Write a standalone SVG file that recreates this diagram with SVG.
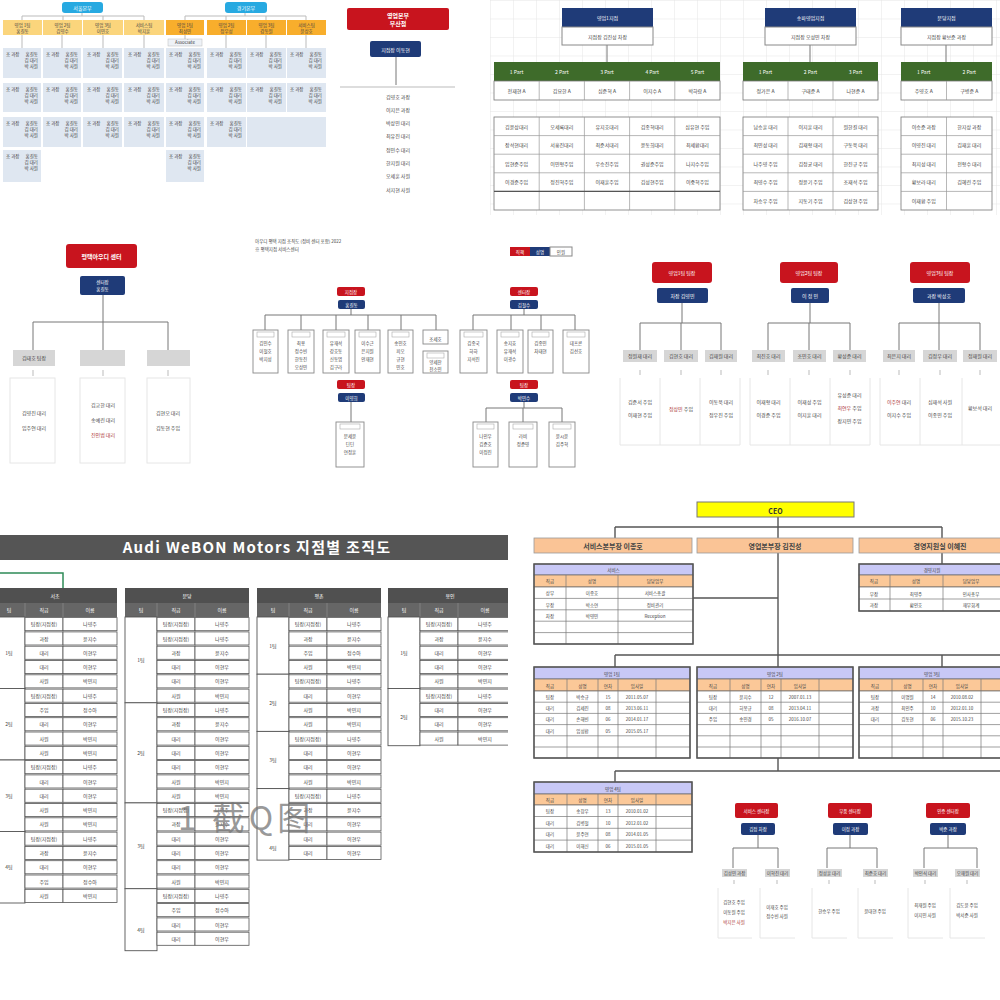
<svg xmlns="http://www.w3.org/2000/svg" width="1000" height="1000" viewBox="0 0 1000 1000">
<defs>
<style>
text{font-family:"Noto Sans CJK KR","Liberation Sans",sans-serif;}
.w{fill:#fff}
.d{fill:#444}
.b{font-weight:bold}
.f4{font-size:4.5px}
.f5{font-size:5px}
.f6{font-size:6px}
.f7{font-size:7px}
.c{text-anchor:middle}
.e{text-anchor:end}
.ln{stroke:#777;stroke-width:1;fill:none}
.lnl{stroke:#bbb;stroke-width:1;fill:none}
.lnd{stroke:#555;stroke-width:1.4;fill:none}
.red{fill:#c8141e}
.navy{fill:#1f3b78}
.cellA{fill:#dfe7f1}
.box{fill:#fff;stroke:#888;stroke-width:1}
.faint{fill:none;stroke:#e6e6e6;stroke-width:1}
.gl{fill:#d6d6d6}
.cell{fill:#fff;stroke:#555;stroke-width:0.8}
.tc{fill:#fff;stroke:#666;stroke-width:0.7}
.hd{fill:#505050}
.lav{fill:#c8c8f6;stroke:#666;stroke-width:0.7}
.org{fill:#fbc898;stroke:#666;stroke-width:0.7}
.grn{fill:#3e6b2a}
</style>
<pattern id="grid" width="23" height="18.5" patternUnits="userSpaceOnUse" x="490" y="0"><path d="M0 0V18.5M0 0H23" stroke="#dedede" stroke-width="0.8" fill="none"/></pattern>
<g id="ca" class="f4 d">
<text x="3" y="8">조 과장</text><text x="35" y="8" class="e">홍길동</text>
<text x="35" y="14" class="e">김 대리</text>
<text x="35" y="20" class="e">박 사원</text>
</g>
<g id="ra"><rect x="32" y="0.6" width="38" height="13.1" class="cell"/><rect x="70" y="0.6" width="54" height="13.1" class="cell"/><text x="51" y="9.3" class="f5 c d">팀장(지점장)</text><text x="97" y="9.3" class="f5 c d">나영주</text></g>
<g id="rb"><rect x="32" y="0.6" width="38" height="13.1" class="cell"/><rect x="70" y="0.6" width="54" height="13.1" class="cell"/><text x="51" y="9.3" class="f5 c d">과장</text><text x="97" y="9.3" class="f5 c d">윤지수</text></g>
<g id="rc"><rect x="32" y="0.6" width="38" height="13.1" class="cell"/><rect x="70" y="0.6" width="54" height="13.1" class="cell"/><text x="51" y="9.3" class="f5 c d">대리</text><text x="97" y="9.3" class="f5 c d">이현우</text></g>
<g id="rd"><rect x="32" y="0.6" width="38" height="13.1" class="cell"/><rect x="70" y="0.6" width="54" height="13.1" class="cell"/><text x="51" y="9.3" class="f5 c d">사원</text><text x="97" y="9.3" class="f5 c d">박민지</text></g>
<g id="re"><rect x="32" y="0.6" width="38" height="13.1" class="cell"/><rect x="70" y="0.6" width="54" height="13.1" class="cell"/><text x="51" y="9.3" class="f5 c d">주임</text><text x="97" y="9.3" class="f5 c d">정수아</text></g>
</defs>
<rect width="1000" height="1000" fill="#fff"/>

<!-- Panel A -->
<g id="panelA">
<path class="lnl" d="M82 13V16M22 16H144M22 16V20M63 16V20M103 16V20M144 16V20M245 13V16M185 16H306M185 16V20M226 16V20M266 16V20M306 16V20"/>
<rect x="62" y="2" width="41" height="11" rx="3" fill="#27a9e1"/><text x="82.5" y="9.5" class="f5 c w">서울본부</text>
<rect x="225" y="2" width="42" height="11" rx="3" fill="#27a9e1"/><text x="246" y="9.5" class="f5 c w">경기본부</text>
<g class="f4">
<rect x="3" y="20" width="39" height="15" fill="#fbd57c"/><text x="22.5" y="26.5" class="c d">영업 1팀</text><text x="22.5" y="32.5" class="c d">홍길동</text>
<rect x="43" y="20" width="39" height="15" fill="#fbd57c"/><text x="62.5" y="26.5" class="c d">영업 2팀</text><text x="62.5" y="32.5" class="c d">김영수</text>
<rect x="83" y="20" width="40" height="15" fill="#fbd57c"/><text x="103" y="26.5" class="c d">영업 3팀</text><text x="103" y="32.5" class="c d">이민호</text>
<rect x="124" y="20" width="40" height="15" fill="#fbd57c"/><text x="144" y="26.5" class="c d">서비스팀</text><text x="144" y="32.5" class="c d">박지훈</text>
<rect x="166" y="20" width="38" height="15" fill="#f8ae2c"/><text x="185" y="26.5" class="c d">영업 1팀</text><text x="185" y="32.5" class="c d">최성민</text>
<rect x="207" y="20" width="39" height="15" fill="#f8ae2c"/><text x="226.5" y="26.5" class="c d">영업 2팀</text><text x="226.5" y="32.5" class="c d">정우성</text>
<rect x="247" y="20" width="39" height="15" fill="#f8ae2c"/><text x="266.5" y="26.5" class="c d">영업 3팀</text><text x="266.5" y="32.5" class="c d">강동원</text>
<rect x="287" y="20" width="39" height="15" fill="#f8ae2c"/><text x="306.5" y="26.5" class="c d">서비스팀</text><text x="306.5" y="32.5" class="c d">윤상호</text>
</g>
<path class="lnl" d="M22 35V48M62 35V48M103 35V48M144 35V48M185 35V39M226 35V48M266 35V48M306 35V48"/>
<rect x="168" y="39" width="34" height="7" fill="#eef2f7" stroke="#bbb" stroke-width="0.5"/><text x="185" y="44.3" class="f4 c d">Associate</text>
<rect x="3" y="48" width="38" height="30" class="cellA"/><use href="#ca" x="3" y="48"/>
<rect x="43" y="48" width="38" height="30" class="cellA"/><use href="#ca" x="43" y="48"/>
<rect x="83" y="48" width="39" height="30" class="cellA"/><use href="#ca" x="84" y="48"/>
<rect x="124" y="48" width="40" height="30" class="cellA"/><use href="#ca" x="125" y="48"/>
<rect x="166" y="48" width="38" height="30" class="cellA"/><use href="#ca" x="166" y="48"/>
<rect x="207" y="48" width="39" height="30" class="cellA"/><use href="#ca" x="207" y="48"/>
<rect x="247" y="48" width="39" height="30" class="cellA"/><use href="#ca" x="247" y="48"/>
<rect x="287" y="48" width="39" height="30" class="cellA"/><use href="#ca" x="287" y="48"/>
<rect x="3" y="83" width="38" height="29" class="cellA"/><use href="#ca" x="3" y="83"/>
<rect x="43" y="83" width="38" height="29" class="cellA"/><use href="#ca" x="43" y="83"/>
<rect x="83" y="83" width="39" height="29" class="cellA"/><use href="#ca" x="84" y="83"/>
<rect x="124" y="83" width="40" height="29" class="cellA"/><use href="#ca" x="125" y="83"/>
<rect x="166" y="83" width="38" height="29" class="cellA"/><use href="#ca" x="166" y="83"/>
<rect x="207" y="83" width="39" height="29" class="cellA"/><use href="#ca" x="207" y="83"/>
<rect x="247" y="83" width="39" height="29" class="cellA"/><use href="#ca" x="247" y="83"/>
<rect x="287" y="83" width="39" height="29" class="cellA"/><use href="#ca" x="287" y="83"/>
<rect x="3" y="117" width="38" height="30" class="cellA"/><use href="#ca" x="3" y="117"/>
<rect x="43" y="117" width="38" height="30" class="cellA"/><use href="#ca" x="43" y="117"/>
<rect x="83" y="117" width="39" height="30" class="cellA"/><use href="#ca" x="84" y="117"/>
<rect x="124" y="117" width="40" height="30" class="cellA"/><use href="#ca" x="125" y="117"/>
<rect x="166" y="117" width="38" height="30" class="cellA"/><use href="#ca" x="166" y="117"/>
<rect x="207" y="117" width="39" height="30" class="cellA"/><use href="#ca" x="207" y="117"/>
<rect x="247" y="117" width="79" height="30" class="cellA"/>
<rect x="3" y="150" width="38" height="32" class="cellA"/><use href="#ca" x="3" y="150"/>
<rect x="166" y="150" width="38" height="32" class="cellA"/><use href="#ca" x="166" y="150"/>
</g>

<!-- Panel B -->
<g id="panelB">
<rect x="347" y="8" width="102" height="22" rx="2" class="red"/>
<text x="398" y="17.5" class="f6 c w b">영업본부</text><text x="398" y="25.5" class="f6 c w b">부산점</text>
<rect x="370" y="41" width="51" height="16" rx="2" class="navy"/><text x="395.5" y="51.5" class="f5 c w">지점장 이동현</text>
<path class="ln" d="M396 57V85"/>
<path class="lnl" d="M340 87H455"/>
<g class="f5 c d">
<text x="398" y="99">김영호 과장</text><text x="398" y="112">이지은 과장</text><text x="398" y="125">박상민 대리</text>
<text x="398" y="138">최유진 대리</text><text x="398" y="152">정민수 대리</text><text x="398" y="165">한지원 대리</text>
<text x="398" y="178">오세훈 사원</text><text x="398" y="192">서지현 사원</text>
</g>
</g>

<!-- Panel C -->
<g id="panelC">
<rect x="490" y="0" width="510" height="215" fill="url(#grid)"/>
<path class="ln" d="M607 45V62M810 45V62M946 45V62"/>
<rect x="562" y="8" width="91" height="19" class="navy"/><text x="607.5" y="20" class="f5 c w">영업1지점</text>
<rect x="562" y="27" width="91" height="18" class="box" stroke="#666"/><text x="607.5" y="38.5" class="f5 c d">지점장 김진성 차장</text>
<rect x="765" y="8" width="91" height="19" class="navy"/><text x="810.5" y="20" class="f5 c w">송파영업지점</text>
<rect x="765" y="27" width="91" height="18" class="box"/><text x="810.5" y="38.5" class="f5 c d">지점장 오성민 차장</text>
<rect x="901" y="8" width="91" height="19" class="navy"/><text x="946.5" y="20" class="f5 c w">분당지점</text>
<rect x="901" y="27" width="91" height="18" class="box"/><text x="946.5" y="38.5" class="f5 c d">지점장 황보준 과장</text>
<rect x="494" y="62" width="226" height="19" class="grn"/>
<rect x="743" y="62" width="135" height="19" class="grn"/>
<rect x="901" y="62" width="91" height="19" class="grn"/>
<g class="f5 c w">
<text x="516.6" y="74">1 Part</text><text x="561.8" y="74">2 Part</text><text x="607" y="74">3 Part</text><text x="652.2" y="74">4 Part</text><text x="697.4" y="74">5 Part</text>
<text x="765.5" y="74">1 Part</text><text x="810.5" y="74">2 Part</text><text x="855.5" y="74">3 Part</text>
<text x="923.75" y="74">1 Part</text><text x="969.25" y="74">2 Part</text>
</g>
<g fill="#fff" stroke="#777" stroke-width="0.8">
<rect x="494" y="81" width="226" height="19"/><rect x="743" y="81" width="135" height="19"/><rect x="901" y="81" width="91" height="19"/>
<rect x="494" y="117" width="226" height="93"/><rect x="743" y="117" width="135" height="93"/><rect x="901" y="117" width="91" height="93"/>
</g>
<path stroke="#999" stroke-width="0.7" fill="none" d="M539.2 81V100M584.4 81V100M629.6 81V100M674.8 81V100M788 81V100M833 81V100M946.5 81V100
M539.2 117V210M584.4 117V210M629.6 117V210M674.8 117V210M788 117V210M833 117V210M946.5 117V210
M494 135.6H720M494 154.2H720M494 172.8H720M494 191.4H720M743 135.6H878M743 154.2H878M743 172.8H878M743 191.4H878M901 135.6H992M901 154.2H992M901 172.8H992M901 191.4H992"/>
<path stroke="#555" stroke-width="1.2" fill="none" d="M494 191.4H720"/>
<g class="f5 c d">
<text x="516.6" y="92.5">전재현 A</text><text x="561.8" y="92.5">김요한 A</text><text x="607" y="92.5">심준혁 A</text><text x="652.2" y="92.5">이지수 A</text><text x="697.4" y="92.5">박하람 A</text>
<text x="765.5" y="92.5">정가은 A</text><text x="810.5" y="92.5">구태준 A</text><text x="855.5" y="92.5">나현준 A</text>
<text x="923.75" y="92.5">주영호 A</text><text x="969.25" y="92.5">구병준 A</text>
<text x="516.6" y="128.5">김윤상대리</text><text x="561.8" y="128.5">오세록대리</text><text x="607" y="128.5">유지호대리</text><text x="652.2" y="128.5">김종혁대리</text><text x="697.4" y="128.5">심유현 주임</text>
<text x="516.6" y="147">장석현대리</text><text x="561.8" y="147">서흥진대리</text><text x="607" y="147">최준서대리</text><text x="652.2" y="147">윤동희대리</text><text x="697.4" y="147">최세환대리</text>
<text x="516.6" y="165.6">임현준주임</text><text x="561.8" y="165.6">이민형주임</text><text x="607" y="165.6">우승진주임</text><text x="652.2" y="165.6">권성준주임</text><text x="697.4" y="165.6">나지수주임</text>
<text x="516.6" y="184.2">이경준주임</text><text x="561.8" y="184.2">정진혁주임</text><text x="607" y="184.2">이재훈주임</text><text x="652.2" y="184.2">김성현주임</text><text x="697.4" y="184.2">이중혁주임</text>
<text x="765.5" y="128.5">남승훈 대리</text><text x="810.5" y="128.5">이지훈 대리</text><text x="855.5" y="128.5">원한길 대리</text>
<text x="765.5" y="147">최민성 대리</text><text x="810.5" y="147">김재형 대리</text><text x="855.5" y="147">구동욱 대리</text>
<text x="765.5" y="165.6">나주영 주임</text><text x="810.5" y="165.6">김정균 대리</text><text x="855.5" y="165.6">한진규 주임</text>
<text x="765.5" y="184.2">최영수 주임</text><text x="810.5" y="184.2">정윤기 주임</text><text x="855.5" y="184.2">조재석 주임</text>
<text x="765.5" y="202.8">차승우 주임</text><text x="810.5" y="202.8">지동기 주임</text><text x="855.5" y="202.8">김상현 주임</text>
<text x="923.75" y="128.5">이승준 과장</text><text x="969.25" y="128.5">한지상 과장</text>
<text x="923.75" y="147">이영진 대리</text><text x="969.25" y="147">김재훈 대리</text>
<text x="923.75" y="165.6">최지성 대리</text><text x="969.25" y="165.6">전형수 대리</text>
<text x="923.75" y="184.2">황보라 대리</text><text x="969.25" y="184.2">김혜린 주임</text>
<text x="923.75" y="202.8">이재환 주임</text>
</g>
</g>

<!-- Panel D -->
<g id="panelD">
<rect x="66" y="244" width="71" height="24" rx="3" class="red"/><text x="101.5" y="258.5" class="f6 c w b">평택아우디 센터</text>
<rect x="80" y="276" width="45" height="19" rx="2" class="navy"/><text x="102.5" y="284" class="f4 c w">센터장</text><text x="102.5" y="291" class="f4 c w">홍길동</text>
<path class="ln" d="M103 295V322M33 322H168M33 322V350M103 322V350M168 322V350"/>
<rect x="13" y="350" width="42" height="16" class="gl"/><text x="34" y="360" class="f5 c d">김태호 팀장</text>
<rect x="80" y="350" width="45" height="16" class="gl"/>
<rect x="147" y="350" width="43" height="16" class="gl"/>
<path class="lnl" d="M33 370V376M103 370V376M168 370V376"/>
<rect x="10" y="378" width="45" height="85" class="faint"/>
<rect x="80" y="378" width="45" height="85" class="faint"/>
<rect x="147" y="378" width="43" height="85" class="faint"/>
<g class="f5 c d">
<text x="34" y="415">김영진 대리</text><text x="34" y="430">임주연 대리</text>
<text x="103" y="407">김교한 대리</text><text x="103" y="422">송예린 대리</text><text x="103" y="437" fill="#a33">진인범 대리</text>
<text x="168" y="415">김현오 대리</text><text x="168" y="430">김동현 주임</text>
</g>
</g>

<!-- Panel E -->
<g id="panelE">
<text x="255" y="243" class="f4 d">아우디 평택 지점 조직도 (정비 센터 포함) 2022</text>
<text x="255" y="251" class="f4 d">※ 평택지점 서비스센터</text>
<rect x="510" y="247" width="20" height="9" class="red"/><rect x="530" y="247" width="20" height="9" class="navy"/><rect x="550" y="247" width="22" height="9" class="box" stroke="#ccc"/>
<text x="520" y="253.5" class="f4 c w">직책</text><text x="540" y="253.5" class="f4 c w">성명</text><text x="561" y="253.5" class="f4 c d">인원</text>
<path class="ln" d="M351 303V315M265 315H436M265 315V330M301 315V330M336 315V330M368 315V330M401 315V330M436 315V330M524 303V315M473 315H575M473 315V330M511 315V330M541 315V330M575 315V330M351 397V422M524 397V408M486 408H562M486 408V422M523 408V422M562 408V422"/>
<rect x="337" y="287" width="28" height="9" rx="2" class="red"/><text x="351" y="293.5" class="f4 c w">지점장</text>
<rect x="338" y="300" width="27" height="9" rx="2" class="navy"/><text x="351.5" y="306.5" class="f4 c w">홍길동</text>
<rect x="510" y="287" width="28" height="9" rx="2" class="red"/><text x="524" y="293.5" class="f4 c w">센터장</text>
<rect x="510" y="300" width="28" height="9" rx="2" class="navy"/><text x="524" y="306.5" class="f4 c w">김철수</text>
<rect x="337" y="380" width="28" height="9" rx="2" class="red"/><text x="351" y="386.5" class="f4 c w">팀장</text>
<rect x="338" y="393" width="27" height="9" rx="2" class="navy"/><text x="351.5" y="399.5" class="f4 c w">이영희</text>
<rect x="510" y="380" width="28" height="9" rx="2" class="red"/><text x="524" y="386.5" class="f4 c w">팀장</text>
<rect x="510" y="393" width="28" height="9" rx="2" class="navy"/><text x="524" y="399.5" class="f4 c w">박민수</text>
<g fill="#fff" stroke="#888" stroke-width="0.9">
<rect x="253" y="330" width="25" height="43"/><rect x="288" y="330" width="26" height="43"/><rect x="323" y="330" width="26" height="43"/>
<rect x="355" y="330" width="25" height="43"/><rect x="388" y="330" width="25" height="43"/><rect x="423" y="330" width="25" height="14"/><rect x="423" y="351" width="25" height="22"/>
<rect x="460" y="330" width="27" height="43"/><rect x="497" y="330" width="26" height="43"/><rect x="528" y="330" width="25" height="43"/><rect x="563" y="330" width="26" height="43"/>
<rect x="336" y="422" width="28" height="45"/><rect x="473" y="422" width="25" height="45"/><rect x="509" y="422" width="28" height="45"/><rect x="549" y="422" width="26" height="45"/>
</g>
<g fill="#fff" stroke="#aaa" stroke-width="0.6">
<rect x="257" y="332" width="17" height="5"/><rect x="292" y="332" width="18" height="5"/><rect x="327" y="332" width="18" height="5"/><rect x="359" y="332" width="17" height="5"/><rect x="392" y="332" width="17" height="5"/><rect x="427" y="353" width="17" height="5"/>
<rect x="464" y="332" width="19" height="5"/><rect x="501" y="332" width="18" height="5"/><rect x="532" y="332" width="17" height="5"/><rect x="567" y="332" width="18" height="5"/>
<rect x="340" y="424" width="20" height="5"/><rect x="477" y="424" width="17" height="5"/><rect x="513" y="424" width="20" height="5"/><rect x="553" y="424" width="18" height="5"/>
</g>
<g class="f4 c d">
<text x="265.5" y="345">김민수</text><text x="265.5" y="353">이철호</text><text x="265.5" y="361">박지성</text>
<text x="301" y="345">최용</text><text x="301" y="353">정수빈</text><text x="301" y="361">한동진</text><text x="301" y="369">오상민</text>
<text x="336" y="345">유재석</text><text x="336" y="353">강호동</text><text x="336" y="361">신동엽</text><text x="336" y="369">김구라</text>
<text x="367.5" y="345">이수근</text><text x="367.5" y="353">은지원</text><text x="367.5" y="361">안재현</text>
<text x="400.5" y="345">송민호</text><text x="400.5" y="353">피오</text><text x="400.5" y="361">규현</text><text x="400.5" y="369">민호</text>
<text x="435.5" y="341">조세호</text><text x="435.5" y="364">양세찬</text><text x="435.5" y="371">전소민</text>
<text x="473.5" y="345">김종국</text><text x="473.5" y="353">하하</text><text x="473.5" y="361">지석진</text>
<text x="510" y="345">송지효</text><text x="510" y="353">유재석</text><text x="510" y="361">이광수</text>
<text x="540.5" y="345">김종민</text><text x="540.5" y="353">차태현</text>
<text x="576" y="345">데프콘</text><text x="576" y="353">김선호</text>
<text x="350" y="438">문세윤</text><text x="350" y="446">딘딘</text><text x="350" y="454">연정훈</text>
<text x="485.5" y="438">나인우</text><text x="485.5" y="446">김준호</text><text x="485.5" y="454">이정진</text>
<text x="523" y="438">라비</text><text x="523" y="446">정준영</text>
<text x="562" y="438">윤시윤</text><text x="562" y="446">김주혁</text>
</g>
</g>

<!-- Panel F -->
<g id="panelF">
<path class="ln" d="M682 303V323M640 323H721M640 323V350M681 323V350M721 323V350M810 303V323M768 323H850M768 323V350M809 323V350M850 323V350M939 303V323M899 323H980M899 323V350M939 323V350M980 323V350"/>
<rect x="652" y="262" width="60" height="21" rx="3" class="red"/><text x="682" y="274.5" class="f5 c w">영업1팀 팀장</text>
<rect x="657" y="288" width="51" height="15" rx="2" class="navy"/><text x="682.5" y="297.5" class="f5 c w">차장 김영민</text>
<rect x="780" y="262" width="58" height="21" rx="3" class="red"/><text x="809" y="274.5" class="f5 c w">영업2팀 팀장</text>
<rect x="791" y="288" width="38" height="15" rx="2" class="navy"/><text x="810" y="297.5" class="f5 c w">이 정 민</text>
<rect x="910" y="262" width="60" height="21" rx="3" class="red"/><text x="940" y="274.5" class="f5 c w">영업3팀 팀장</text>
<rect x="913" y="288" width="52" height="15" rx="2" class="navy"/><text x="939" y="297.5" class="f5 c w">과장 박성호</text>
<g class="gl">
<rect x="623" y="350" width="34" height="12"/><rect x="664" y="350" width="34" height="12"/><rect x="705" y="350" width="32" height="12"/>
<rect x="752" y="350" width="33" height="12"/><rect x="793" y="350" width="33" height="12"/><rect x="833" y="350" width="33" height="12"/>
<rect x="883" y="350" width="32" height="12"/><rect x="923" y="350" width="34" height="12"/><rect x="963" y="350" width="34" height="12"/>
</g>
<g class="f5 c d">
<text x="640" y="358">정원재 대리</text><text x="681" y="358">김현호 대리</text><text x="721" y="358">김재원 대리</text>
<text x="768.5" y="358">최진호 대리</text><text x="809.5" y="358">조민호 대리</text><text x="849.5" y="358">황성준 대리</text>
<text x="899" y="358">최은지 대리</text><text x="940" y="358">김정우 대리</text><text x="980" y="358">정재원 대리</text>
</g>
<path class="lnl" d="M640 370V375M681 370V375M721 370V375M768 370V375M809 370V375M850 370V375M899 370V375M940 370V375M980 370V375"/>
<path class="faint" d="M620 378V445M660 378V445M700 378V445M740 378V445M750 378V445M790 378V445M830 378V445M870 378V445M880 378V445M920 378V445M962 378V445M620 445H740M750 445H870M880 445H1000"/>
<g class="f5 c d">
<text x="640" y="404">김준서 주임</text><text x="640" y="417">이재현 주임</text>
<text x="681" y="411"><tspan fill="#a33">정상민</tspan> 주임</text>
<text x="721" y="404">이동욱 대리</text><text x="721" y="417">정우진 주임</text>
<text x="768.5" y="404">이재형 대리</text><text x="768.5" y="417">이경준 주임</text>
<text x="809.5" y="404">이재성 주임</text><text x="809.5" y="417">이지훈 대리</text>
<text x="849.5" y="397">유성준 대리</text><text x="849.5" y="410"><tspan fill="#a33">최연우</tspan> 주임</text><text x="849.5" y="423">장지민 주임</text>
<text x="899" y="404"><tspan fill="#a33">이주연</tspan> 대리</text><text x="899" y="417">이지수 주임</text>
<text x="940" y="404">심재석 사원</text><text x="940" y="417">이종민 주임</text>
<text x="980" y="410">황보석 대리</text>
</g>
</g>

<!-- Panel G -->
<g id="panelG">
<rect x="0" y="535" width="508" height="25" fill="#555"/>
<text x="257" y="553" class="c w b" style="font-size:15px;letter-spacing:1.3px">Audi WeBON Motors 지점별 조직도</text>
<rect x="-2" y="573" width="65" height="17" fill="none" stroke="#2e8b57" stroke-width="1.5"/>
<g>
<rect x="-7" y="588" width="124" height="15" class="hd"/><rect x="125" y="588" width="124" height="15" class="hd"/><rect x="257" y="588" width="124" height="15" class="hd"/><rect x="388" y="588" width="124" height="15" class="hd"/>
<rect x="-7" y="603" width="124" height="14" fill="#666"/><rect x="125" y="603" width="124" height="14" fill="#666"/><rect x="257" y="603" width="124" height="14" fill="#666"/><rect x="388" y="603" width="124" height="14" fill="#666"/>
<path stroke="#888" stroke-width="0.8" d="M25 603V617M63 603V617M157 603V617M195 603V617M289 603V617M327 603V617M420 603V617M458 603V617"/>
</g>
<g class="f5 c w">
<text x="55" y="598">서초</text><text x="187" y="598">분당</text><text x="319" y="598">평촌</text><text x="450" y="598">용인</text>
<text x="9" y="612">팀</text><text x="44" y="612">직급</text><text x="90" y="612">이름</text>
<text x="141" y="612">팀</text><text x="176" y="612">직급</text><text x="222" y="612">이름</text>
<text x="273" y="612">팀</text><text x="308" y="612">직급</text><text x="354" y="612">이름</text>
<text x="404" y="612">팀</text><text x="439" y="612">직급</text><text x="485" y="612">이름</text>
</g>
<!-- group cells -->
<g fill="#fff" stroke="#555" stroke-width="0.9">
<rect x="-7" y="617" width="32" height="71.5"/><rect x="-7" y="688.5" width="32" height="71.5"/><rect x="-7" y="760" width="32" height="71.5"/><rect x="-7" y="831.5" width="32" height="71.5"/>
<rect x="125" y="617" width="32" height="85.8"/><rect x="125" y="702.8" width="32" height="100.1"/><rect x="125" y="802.9" width="32" height="85.8"/><rect x="125" y="888.7" width="32" height="62"/>
<rect x="257" y="617" width="32" height="57.2"/><rect x="257" y="674.2" width="32" height="57.2"/><rect x="257" y="731.4" width="32" height="57.2"/><rect x="257" y="788.6" width="32" height="71.5"/>
<rect x="388" y="617" width="32" height="71.5"/><rect x="388" y="688.5" width="32" height="57.2"/>
</g>
<g class="f5 c d">
<text x="9" y="655">1팀</text><text x="9" y="726">2팀</text><text x="9" y="798">3팀</text><text x="9" y="869">4팀</text>
<text x="141" y="662">1팀</text><text x="141" y="755">2팀</text><text x="141" y="848">3팀</text><text x="141" y="932">4팀</text>
<text x="273" y="648">1팀</text><text x="273" y="705">2팀</text><text x="273" y="762">3팀</text><text x="273" y="850">4팀</text>
<text x="404" y="655">1팀</text><text x="404" y="719">2팀</text>
</g>
<!-- table 1 -->
<use href="#ra" x="-7" y="617"/><use href="#rb" x="-7" y="631.3"/><use href="#rc" x="-7" y="645.6"/><use href="#rc" x="-7" y="659.9"/><use href="#rd" x="-7" y="674.2"/>
<use href="#ra" x="-7" y="688.5"/><use href="#re" x="-7" y="702.8"/><use href="#rc" x="-7" y="717.1"/><use href="#rd" x="-7" y="731.4"/><use href="#rd" x="-7" y="745.7"/>
<use href="#ra" x="-7" y="760"/><use href="#rc" x="-7" y="774.3"/><use href="#rc" x="-7" y="788.6"/><use href="#rd" x="-7" y="802.9"/><use href="#rd" x="-7" y="817.2"/>
<use href="#ra" x="-7" y="831.5"/><use href="#rb" x="-7" y="845.8"/><use href="#rc" x="-7" y="860.1"/><use href="#re" x="-7" y="874.4"/><use href="#rd" x="-7" y="888.7"/>
<!-- table 2 -->
<use href="#ra" x="125" y="617"/><use href="#ra" x="125" y="631.3"/><use href="#rb" x="125" y="645.6"/><use href="#rc" x="125" y="659.9"/><use href="#rc" x="125" y="674.2"/><use href="#rd" x="125" y="688.5"/>
<use href="#ra" x="125" y="702.8"/><use href="#rb" x="125" y="717.1"/><use href="#rc" x="125" y="731.4"/><use href="#rc" x="125" y="745.7"/><use href="#rc" x="125" y="760"/><use href="#rd" x="125" y="774.3"/><use href="#rd" x="125" y="788.6"/>
<use href="#ra" x="125" y="802.9"/><use href="#rb" x="125" y="817.2"/><use href="#rc" x="125" y="831.5"/><use href="#rc" x="125" y="845.8"/><use href="#rc" x="125" y="860.1"/><use href="#rd" x="125" y="874.4"/>
<use href="#ra" x="125" y="888.7"/><use href="#re" x="125" y="903"/><use href="#rc" x="125" y="917.3"/><use href="#rc" x="125" y="931.6"/>
<!-- table 3 -->
<use href="#ra" x="257" y="617"/><use href="#rb" x="257" y="631.3"/><use href="#re" x="257" y="645.6"/><use href="#rd" x="257" y="659.9"/>
<use href="#ra" x="257" y="674.2"/><use href="#rc" x="257" y="688.5"/><use href="#rd" x="257" y="702.8"/><use href="#rd" x="257" y="717.1"/>
<use href="#ra" x="257" y="731.4"/><use href="#rc" x="257" y="745.7"/><use href="#rc" x="257" y="760"/><use href="#rd" x="257" y="774.3"/>
<use href="#ra" x="257" y="788.6"/><use href="#rb" x="257" y="802.9"/><use href="#rc" x="257" y="817.2"/><use href="#rc" x="257" y="831.5"/><use href="#rc" x="257" y="845.8"/>
<!-- table 4 -->
<use href="#ra" x="388" y="617"/><use href="#rb" x="388" y="631.3"/><use href="#rc" x="388" y="645.6"/><use href="#rc" x="388" y="659.9"/><use href="#rd" x="388" y="674.2"/>
<use href="#ra" x="388" y="688.5"/><use href="#rc" x="388" y="702.8"/><use href="#rc" x="388" y="717.1"/><use href="#rd" x="388" y="731.4"/>
<rect x="508" y="580" width="20" height="380" fill="#fff"/>
<text x="178" y="830" fill="#777" fill-opacity="0.75" style="font-family:'Noto Sans CJK SC','Liberation Sans',sans-serif;font-size:33px;letter-spacing:4px">1 截Q图</text>
</g>

<!-- Panel H -->
<g id="panelH">
<path class="lnd" d="M778 517V771M615 527H942M615 527V538M942 527V538M942 553V564M693 598H778M615 655H1000M615 655V667M942 655V667M615 771H1000M615 771V782"/>
<rect x="697" y="502" width="157" height="15" fill="#ffff00" stroke="#777" stroke-width="1"/>
<text x="775.5" y="513.5" class="f7 c b" fill="#333">CEO</text>
<g fill="#fac496" stroke="#999" stroke-width="0.8">
<rect x="534" y="538" width="158" height="15"/><rect x="697" y="538" width="156" height="15"/><rect x="859" y="538" width="146" height="15"/>
</g>
<g class="f7 c b" fill="#444">
<text x="613" y="548.5">서비스본부장 이종호</text><text x="775" y="548.5">영업본부장 김진성</text><text x="940" y="548.5">경영지원실 이혜진</text>
</g>
<rect x="534" y="564" width="159" height="11" class="lav"/><rect x="534" y="575" width="159" height="12" class="org"/>
<rect x="534" y="587" width="159" height="57" class="tc"/>
<path stroke="#777" stroke-width="0.7" d="M566 575V644M618 575V644M534 598.4H693M534 609.8H693M534 621.2H693M534 632.6H693"/>
<rect x="534" y="564" width="159" height="80" fill="none" stroke="#555" stroke-width="1.5"/>
<rect x="859" y="564" width="146" height="11" class="lav"/><rect x="859" y="575" width="146" height="12" class="org"/>
<rect x="859" y="587" width="146" height="24" class="tc"/>
<path stroke="#777" stroke-width="0.7" d="M890 575V611M943 575V611M859 599H1000"/>
<rect x="859" y="564" width="146" height="47" fill="none" stroke="#555" stroke-width="1.5"/>
<g class="f4 c d">
<text x="613.5" y="571.5">서비스</text><text x="550" y="583">직급</text><text x="592" y="583">성명</text><text x="655" y="583">담당업무</text>
<text x="550" y="595">상무</text><text x="592" y="595">이종호</text><text x="655" y="595">서비스총괄</text>
<text x="550" y="606.5">부장</text><text x="592" y="606.5">박소연</text><text x="655" y="606.5">정비관리</text>
<text x="550" y="618">차장</text><text x="592" y="618">박영민</text><text x="655" y="618">Reception</text>
<text x="932" y="571.5">경영지원</text><text x="874" y="583">직급</text><text x="916" y="583">성명</text><text x="971" y="583">담당업무</text>
<text x="874" y="595.5">부장</text><text x="916" y="595.5">최영주</text><text x="971" y="595.5">인사총무</text>
<text x="874" y="607">과장</text><text x="916" y="607">황인호</text><text x="971" y="607">재무회계</text>
</g>
<g id="hmid">
<rect x="534" y="667" width="156" height="12" class="lav"/><rect x="534" y="679" width="156" height="12" class="org"/>
<rect x="534" y="691" width="156" height="67" class="tc"/>
<path stroke="#777" stroke-width="0.7" d="M567 679V758M598 679V758M618 679V758M656 679V758M534 702.2H690M534 713.4H690M534 724.6H690M534 735.8H690M534 747H690"/>
<rect x="534" y="667" width="156" height="91" fill="none" stroke="#555" stroke-width="1.5"/>
<rect x="697" y="667" width="156" height="12" class="lav"/><rect x="697" y="679" width="156" height="12" class="org"/>
<rect x="697" y="691" width="156" height="67" class="tc"/>
<path stroke="#777" stroke-width="0.7" d="M730 679V758M761 679V758M781 679V758M819 679V758M697 702.2H853M697 713.4H853M697 724.6H853M697 735.8H853M697 747H853"/>
<rect x="697" y="667" width="156" height="91" fill="none" stroke="#555" stroke-width="1.5"/>
<rect x="859" y="667" width="146" height="12" class="lav"/><rect x="859" y="679" width="146" height="12" class="org"/>
<rect x="859" y="691" width="146" height="67" class="tc"/>
<path stroke="#777" stroke-width="0.7" d="M892 679V758M923 679V758M943 679V758M981 679V758M859 702.2H1000M859 713.4H1000M859 724.6H1000M859 735.8H1000M859 747H1000"/>
<rect x="859" y="667" width="146" height="91" fill="none" stroke="#555" stroke-width="1.5"/>
<rect x="534" y="782" width="158" height="12" class="lav"/><rect x="534" y="794" width="158" height="11" class="org"/>
<rect x="534" y="805" width="158" height="47" class="tc"/>
<path stroke="#777" stroke-width="0.7" d="M567 794V852M598 794V852M618 794V852M656 794V852M534 816.5H692M534 828.3H692M534 840.1H692"/>
<rect x="534" y="782" width="158" height="70" fill="none" stroke="#555" stroke-width="1.5"/>
</g>
<g class="f4 c d">
<text x="612" y="675.5">영업 1팀</text><text x="775" y="675.5">영업 2팀</text><text x="932" y="675.5">영업 3팀</text><text x="613" y="790.5">영업 4팀</text>
<text x="550" y="687.5">직급</text><text x="582.5" y="687.5">성명</text><text x="608" y="687.5">연차</text><text x="637" y="687.5">입사일</text>
<text x="713" y="687.5">직급</text><text x="745.5" y="687.5">성명</text><text x="771" y="687.5">연차</text><text x="800" y="687.5">입사일</text>
<text x="875" y="687.5">직급</text><text x="907.5" y="687.5">성명</text><text x="933" y="687.5">연차</text><text x="962" y="687.5">입사일</text>
<text x="550" y="801.5">직급</text><text x="582.5" y="801.5">성명</text><text x="608" y="801.5">연차</text><text x="637" y="801.5">입사일</text>
<text x="550" y="699">팀장</text><text x="582.5" y="699">박승규</text><text x="608" y="699">15</text><text x="637" y="699">2011.05.07</text>
<text x="550" y="710">대리</text><text x="582.5" y="710">김세진</text><text x="608" y="710">08</text><text x="637" y="710">2013.06.11</text>
<text x="550" y="721">대리</text><text x="582.5" y="721">손해빈</text><text x="608" y="721">06</text><text x="637" y="721">2014.01.17</text>
<text x="550" y="732.5">대리</text><text x="582.5" y="732.5">임성환</text><text x="608" y="732.5">05</text><text x="637" y="732.5">2015.05.17</text>
<text x="713" y="699">팀장</text><text x="745.5" y="699">윤지수</text><text x="771" y="699">12</text><text x="800" y="699">2007.01.13</text>
<text x="713" y="710">대리</text><text x="745.5" y="710">허봉규</text><text x="771" y="710">08</text><text x="800" y="710">2013.04.11</text>
<text x="713" y="721">주임</text><text x="745.5" y="721">송민경</text><text x="771" y="721">05</text><text x="800" y="721">2016.10.07</text>
<text x="875" y="699">팀장</text><text x="907.5" y="699">이명원</text><text x="933" y="699">14</text><text x="962" y="699">2010.08.02</text>
<text x="875" y="710">과장</text><text x="907.5" y="710">최인주</text><text x="933" y="710">10</text><text x="962" y="710">2012.01.10</text>
<text x="875" y="721">대리</text><text x="907.5" y="721">김동현</text><text x="933" y="721">06</text><text x="962" y="721">2015.10.23</text>
<text x="550" y="813">팀장</text><text x="582.5" y="813">송창우</text><text x="608" y="813">13</text><text x="637" y="813">2010.01.02</text>
<text x="550" y="824.5">대리</text><text x="582.5" y="824.5">김병철</text><text x="608" y="824.5">10</text><text x="637" y="824.5">2012.01.02</text>
<text x="550" y="836">대리</text><text x="582.5" y="836">윤주연</text><text x="608" y="836">08</text><text x="637" y="836">2014.01.05</text>
<text x="550" y="848">대리</text><text x="582.5" y="848">이해신</text><text x="608" y="848">06</text><text x="637" y="848">2015.01.05</text>
</g>
</g>

<!-- Panel I -->
<g id="panelI">
<path class="ln" d="M758 835V848M733 848H778M733 848V868M778 848V868M850 835V848M827 848H877M827 848V868M877 848V868M948 835V848M924 848H977M924 848V868M977 848V868"/>
<rect x="735" y="803" width="43" height="15" rx="2" class="red"/><text x="756.5" y="812.5" class="f4 c w">서비스 센터장</text>
<rect x="741" y="823" width="34" height="12" rx="2" class="navy"/><text x="758" y="831" class="f4 c w">김정 차장</text>
<rect x="828" y="803" width="44" height="15" rx="2" class="red"/><text x="850" y="812.5" class="f4 c w">부품 센터장</text>
<rect x="833" y="823" width="35" height="12" rx="2" class="navy"/><text x="850.5" y="831" class="f4 c w">이정 과장</text>
<rect x="926" y="803" width="44" height="15" rx="2" class="red"/><text x="948" y="812.5" class="f4 c w">인증 센터장</text>
<rect x="930" y="823" width="36" height="12" rx="2" class="navy"/><text x="948" y="831" class="f4 c w">박준 과장</text>
<g class="gl"><rect x="722" y="869" width="25" height="8"/><rect x="765" y="869" width="25" height="8"/><rect x="817" y="869" width="25" height="8"/><rect x="863" y="869" width="25" height="8"/><rect x="913" y="869" width="25" height="8"/><rect x="955" y="869" width="25" height="8"/></g>
<path class="lnl" d="M734 880V884M777 880V884M829 880V884M875 880V884M925 880V884M967 880V884"/>
<path class="faint" d="M718 888V938H752M760 888V938H795M812 888V938H847M858 888V938H893M908 888V938H943M950 888V938H985"/>
<g class="f4 c d">
<text x="734.5" y="875">김성민 과장</text><text x="777.5" y="875">이혁진 대리</text><text x="829.5" y="875">정성훈 대리</text><text x="875.5" y="875">최준호 대리</text><text x="925.5" y="875">박인식 대리</text><text x="967.5" y="875">오재원 대리</text>
<text x="734" y="904">김현호 주임</text><text x="734" y="914">이동원 주임</text><text x="734" y="923.5" fill="#a33">박지은 사원</text>
<text x="777" y="909">이재호 주임</text><text x="777" y="918">정수빈 사원</text>
<text x="829" y="913">한승우 주임</text>
<text x="875" y="913">윤대현 주임</text>
<text x="925" y="907">최재원 주임</text><text x="925" y="917">이지민 사원</text>
<text x="967" y="907">김도윤 주임</text><text x="967" y="917">박서준 사원</text>
</g>
</g>
</svg>
